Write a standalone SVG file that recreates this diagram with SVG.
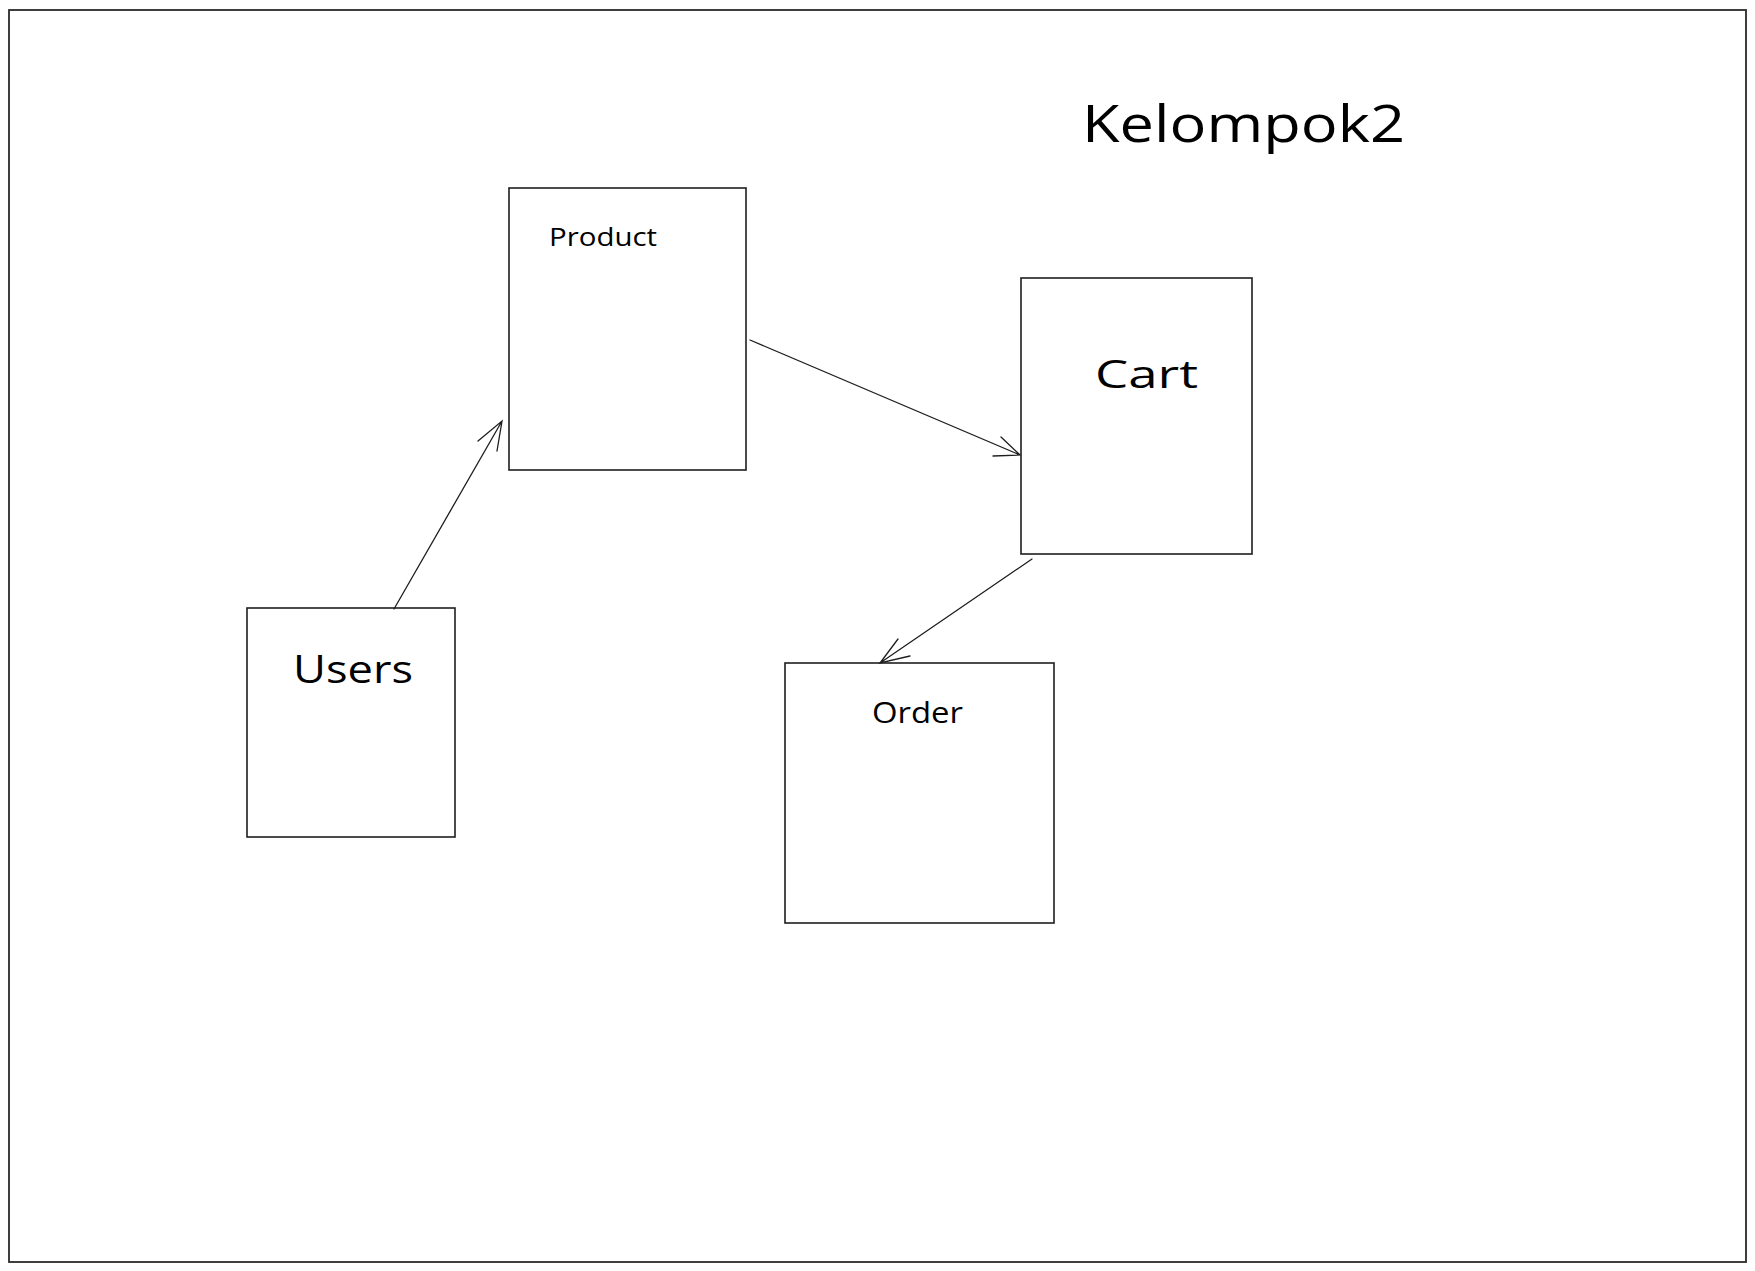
<svg xmlns="http://www.w3.org/2000/svg" width="1755" height="1271" viewBox="0 0 1755 1271">
<style>
.box{fill:#fff;stroke:#1e1e1e;stroke-width:1.6}
.frame{fill:none;stroke:#2a2a2a;stroke-width:1.8}
.conn{fill:none;stroke:#1e1e1e;stroke-width:1.3;stroke-linecap:round}
.lbl{font-family:"Open Sans","Liberation Sans",sans-serif;fill:#000}
</style>
<rect width="1755" height="1271" fill="#fff"/>
<g id="frame"><rect class="frame" x="9" y="10" width="1737" height="1252"/></g>
<g id="title"><text class="lbl" x="1082" y="142" font-size="52" textLength="323" lengthAdjust="spacingAndGlyphs">Kelompok2</text></g>
<g id="product"><rect class="box" x="509" y="188" width="237" height="282"/><text class="lbl" x="549" y="246" font-size="25" textLength="108" lengthAdjust="spacingAndGlyphs">Product</text></g>
<g id="cart"><rect class="box" x="1021" y="278" width="231" height="276"/><text class="lbl" x="1095" y="388" font-size="38" textLength="103" lengthAdjust="spacingAndGlyphs">Cart</text></g>
<g id="users"><rect class="box" x="247" y="608" width="208" height="229"/><text class="lbl" x="293" y="683" font-size="38" textLength="120" lengthAdjust="spacingAndGlyphs">Users</text></g>
<g id="order"><rect class="box" x="785" y="663" width="269" height="260"/><text class="lbl" x="872" y="723" font-size="30" textLength="91" lengthAdjust="spacingAndGlyphs">Order</text></g>
<g id="connectors">
<path class="conn" d="M394 609 L502 421 M478 441 L502 421 L497 451"/>
<path class="conn" d="M750 340 L1020 455 M1001 437 L1020 455 L993 456"/>
<path class="conn" d="M1032 559 L880 663 M898 639 L880 663 L910 656"/>
</g>
</svg>
